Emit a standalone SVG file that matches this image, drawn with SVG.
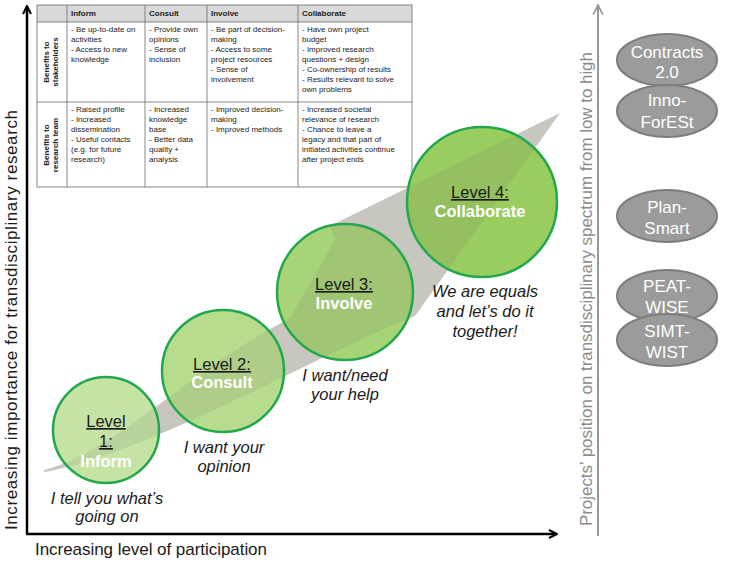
<svg xmlns="http://www.w3.org/2000/svg" width="736" height="562" viewBox="0 0 736 562">
<style>
text{font-family:"Liberation Sans",Arial,sans-serif;}
.th{font-size:8px;font-weight:bold;fill:#222;}
.td{font-size:8px;fill:#222;}
.grid{stroke:#6a6a6a;stroke-width:0.8;fill:none;}
.lvl{font-size:16.5px;fill:#1a1a1a;text-decoration:underline;text-anchor:middle;}
.name{font-size:16.5px;fill:#fff;font-weight:bold;text-anchor:middle;}
.cap{font-size:16.5px;fill:#1a1a1a;font-style:italic;text-anchor:middle;}
.circ{stroke:#22a84c;stroke-width:2.5;fill:none;}
.ell{fill:#9b9b9b;stroke:#7d7d7d;stroke-width:2;}
.etx{font-size:17px;fill:#fff;text-anchor:middle;}
.ax{font-size:17px;fill:#1a1a1a;}
</style>
<defs>
<path id="bandShape" d="M44,470 C110,455 190,370 290,318 L335,240 L330,226 L560,113 L415,316 L400,322 C330,352 220,410 160,434 C110,455 70,468 44,472 Z"/>
<marker id="ah" viewBox="0 0 10 10" refX="9" refY="5" markerWidth="10" markerHeight="10" markerUnits="userSpaceOnUse" orient="auto">
<path d="M1,1 L9,5 L1,9" fill="none" stroke="#000" stroke-width="2"/>
</marker>
<marker id="ahg" viewBox="0 0 10 10" refX="9" refY="5" markerWidth="12" markerHeight="12" markerUnits="userSpaceOnUse" orient="auto">
<path d="M1,1 L9,5 L1,9" fill="none" stroke="#999" stroke-width="1.5"/>
</marker>
</defs>
<rect width="736" height="562" fill="#fff"/>

<!-- table -->
<g id="table">
<rect x="37" y="5" width="375" height="17" fill="#d9d9d9"/>
<rect x="37" y="5" width="375" height="182" class="grid"/>
<line x1="37" y1="22" x2="412" y2="22" class="grid"/>
<line x1="37" y1="102" x2="412" y2="102" class="grid"/>
<line x1="67" y1="5" x2="67" y2="187" class="grid"/>
<line x1="145" y1="5" x2="145" y2="187" class="grid"/>
<line x1="207" y1="5" x2="207" y2="187" class="grid"/>
<line x1="298" y1="5" x2="298" y2="187" class="grid"/>
<text class="th" x="71" y="16">Inform</text>
<text class="th" x="149" y="16">Consult</text>
<text class="th" x="211" y="16">Involve</text>
<text class="th" x="302" y="16">Collaborate</text>
<text class="th" transform="translate(49,62) rotate(-90)" text-anchor="middle">Benefits to</text>
<text class="th" transform="translate(58,62) rotate(-90)" text-anchor="middle">stakeholders</text>
<text class="th" transform="translate(49,145) rotate(-90)" text-anchor="middle">Benefits to</text>
<text class="th" transform="translate(58,145) rotate(-90)" text-anchor="middle">research team</text>
<text class="td" x="71" y="32">- Be up-to-date on<tspan x="71" dy="10">activities</tspan><tspan x="71" dy="10">- Access to new</tspan><tspan x="71" dy="10">knowledge</tspan></text>
<text class="td" x="149" y="32">- Provide own<tspan x="149" dy="10">opinions</tspan><tspan x="149" dy="10">- Sense of</tspan><tspan x="149" dy="10">inclusion</tspan></text>
<text class="td" x="211" y="32">- Be part of decision-<tspan x="211" dy="10">making</tspan><tspan x="211" dy="10">- Access to some</tspan><tspan x="211" dy="10">project resources</tspan><tspan x="211" dy="10">- Sense of</tspan><tspan x="211" dy="10">involvement</tspan></text>
<text class="td" x="302" y="32">- Have own project<tspan x="302" dy="10">budget</tspan><tspan x="302" dy="10">- Improved research</tspan><tspan x="302" dy="10">questions + design</tspan><tspan x="302" dy="10">- Co-ownership of results</tspan><tspan x="302" dy="10">- Results relevant to solve</tspan><tspan x="302" dy="10">own problems</tspan></text>
<text class="td" x="71" y="112">- Raised profile<tspan x="71" dy="10">- Increased</tspan><tspan x="71" dy="10">dissemination</tspan><tspan x="71" dy="10">- Useful contacts</tspan><tspan x="71" dy="10">(e.g. for future</tspan><tspan x="71" dy="10">research)</tspan></text>
<text class="td" x="149" y="112">- Increased<tspan x="149" dy="10">knowledge</tspan><tspan x="149" dy="10">base</tspan><tspan x="149" dy="10">- Better data</tspan><tspan x="149" dy="10">quality +</tspan><tspan x="149" dy="10">analysis</tspan></text>
<text class="td" x="211" y="112">- Improved decision-<tspan x="211" dy="10">making</tspan><tspan x="211" dy="10">- Improved methods</tspan></text>
<text class="td" x="302" y="112">- Increased societal<tspan x="302" dy="10">relevance of research</tspan><tspan x="302" dy="10">- Chance to leave a</tspan><tspan x="302" dy="10">legacy and that part of</tspan><tspan x="302" dy="10">initiated activities continue</tspan><tspan x="302" dy="10">after project ends</tspan></text>
</g>

<!-- gray arrow band (base) -->
<use href="#bandShape" fill="#d6d5d0"/>

<!-- circle fills -->
<g id="fills">
<circle cx="106" cy="430" r="53" fill="#c6e3a6"/>
<circle cx="223" cy="371" r="61" fill="#b7dc8e"/>
<circle cx="345" cy="292" r="68" fill="#a8d478"/>
<circle cx="482" cy="202" r="75" fill="#9acd60"/>
</g>

<!-- band showing through circles -->
<use href="#bandShape" fill="#6e6e60" fill-opacity="0.14"/>

<g id="level1">
<circle cx="106" cy="430" r="53" class="circ"/>
<text class="lvl" x="106" y="427">Level</text>
<text class="lvl" x="106" y="447">1:</text>
<text class="name" x="106" y="467">Inform</text>
<text class="cap" x="107" y="504">I tell you what’s</text>
<text class="cap" x="107" y="522">going on</text>
</g>
<g id="level2">
<circle cx="223" cy="371" r="61" class="circ"/>
<text class="lvl" x="222" y="370">Level 2:</text>
<text class="name" x="222" y="388">Consult</text>
<text class="cap" x="224" y="453">I want your</text>
<text class="cap" x="224" y="472">opinion</text>
</g>
<g id="level3">
<circle cx="345" cy="292" r="68" class="circ"/>
<text class="lvl" x="344" y="290">Level 3:</text>
<text class="name" x="344" y="309">Involve</text>
<text class="cap" x="345" y="381">I want/need</text>
<text class="cap" x="345" y="400">your help</text>
</g>
<g id="level4">
<circle cx="482" cy="202" r="75" class="circ"/>
<text class="lvl" x="480" y="198">Level 4:</text>
<text class="name" x="480" y="217">Collaborate</text>
<text class="cap" x="485" y="297">We are equals</text>
<text class="cap" x="485" y="317">and let’s do it</text>
<text class="cap" x="485" y="337">together!</text>
</g>

<!-- axes -->
<g id="connectors">
<line x1="27" y1="534" x2="27" y2="6" stroke="#000" stroke-width="2.5" marker-end="url(#ah)"/>
<line x1="26" y1="534" x2="557" y2="534" stroke="#000" stroke-width="2.5" marker-end="url(#ah)"/>
<line x1="598" y1="536" x2="598" y2="5" stroke="#999" stroke-width="2" marker-end="url(#ahg)"/>
</g>
<text class="ax" transform="translate(17,530) rotate(-90)" textLength="420" lengthAdjust="spacing">Increasing importance for transdisciplinary research</text>
<text class="ax" x="35" y="555" textLength="232" lengthAdjust="spacing">Increasing level of participation</text>
<text class="ax" transform="translate(592,526) rotate(-90)" style="fill:#8a8a8a" textLength="474" lengthAdjust="spacing">Projects’ position on transdisciplinary spectrum from low to high</text>

<!-- project ellipses -->
<g id="contracts">
<ellipse cx="667" cy="60" rx="50" ry="26" class="ell"/>
<text class="etx" x="667" y="58">Contracts</text>
<text class="etx" x="667" y="78">2.0</text>
</g>
<g id="innoforest">
<ellipse cx="667" cy="111" rx="50" ry="26" class="ell"/>
<text class="etx" x="667" y="106">Inno-</text>
<text class="etx" x="667" y="128">ForESt</text>
</g>
<g id="plansmart">
<ellipse cx="667" cy="216" rx="50" ry="26" class="ell"/>
<text class="etx" x="667" y="213">Plan-</text>
<text class="etx" x="667" y="234">Smart</text>
</g>
<g id="peatwise">
<ellipse cx="667" cy="296" rx="50" ry="26" class="ell"/>
<text class="etx" x="667" y="292">PEAT-</text>
<text class="etx" x="667" y="313">WISE</text>
</g>
<g id="simtwist">
<ellipse cx="667" cy="340" rx="50" ry="26" class="ell"/>
<text class="etx" x="667" y="337">SIMT-</text>
<text class="etx" x="667" y="358">WIST</text>
</g>
</svg>
